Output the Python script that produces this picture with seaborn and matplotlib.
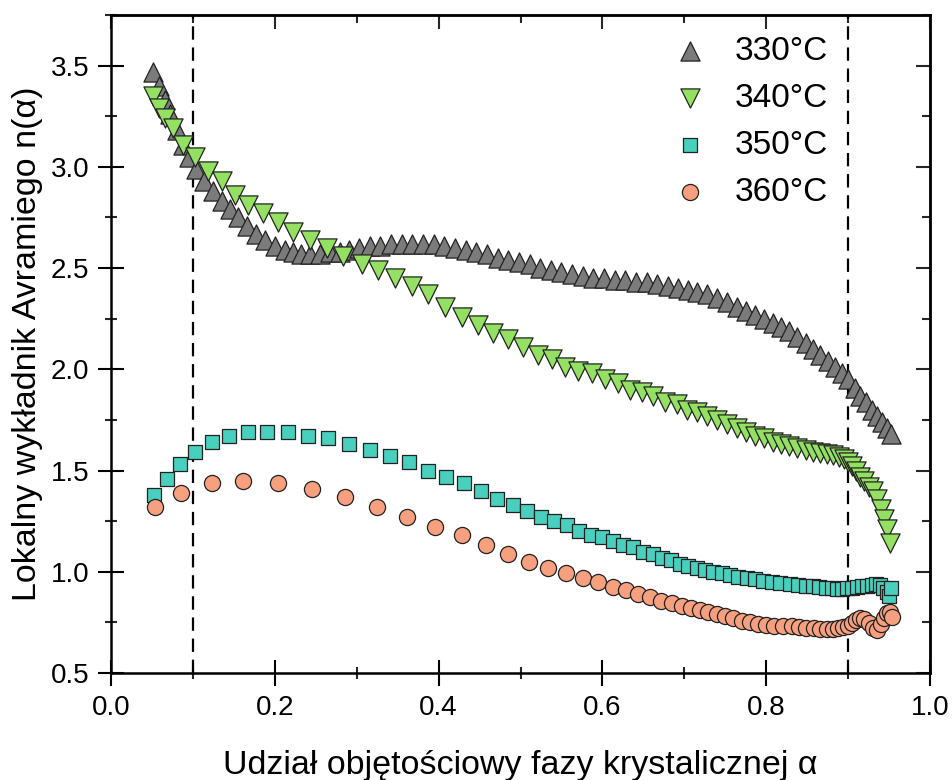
import matplotlib
matplotlib.use("Agg")
import matplotlib.pyplot as plt
import seaborn as sns
from matplotlib.ticker import MultipleLocator, FormatStrFormatter, NullFormatter

# ---------------- data ----------------
labels = ["330°C", "340°C", "350°C", "360°C"]

x330 = [0.051, 0.059, 0.066, 0.072, 0.081, 0.088, 0.095, 0.104, 0.114, 0.124,
        0.135, 0.145, 0.155, 0.166, 0.177, 0.188, 0.200, 0.212, 0.222, 0.232,
        0.243, 0.255, 0.267, 0.279, 0.291, 0.303, 0.316, 0.329, 0.342, 0.355,
        0.368, 0.381, 0.394, 0.407, 0.420, 0.433, 0.446, 0.459, 0.472, 0.485,
        0.498, 0.511, 0.524, 0.537, 0.550, 0.563, 0.576, 0.589, 0.602, 0.615,
        0.628, 0.641, 0.654, 0.667, 0.680, 0.692, 0.704, 0.716, 0.728, 0.740,
        0.752, 0.764, 0.775, 0.786, 0.797, 0.808, 0.818, 0.828, 0.838, 0.848,
        0.857, 0.866, 0.875, 0.884, 0.892, 0.900, 0.908, 0.915, 0.922, 0.929,
        0.935, 0.941, 0.947, 0.952]
y330 = [3.47, 3.40, 3.33, 3.26, 3.18, 3.11, 3.05, 2.99, 2.93, 2.88,
        2.83, 2.79, 2.75, 2.71, 2.67, 2.64, 2.61, 2.59, 2.58, 2.57,
        2.57, 2.57, 2.58, 2.58, 2.59, 2.60, 2.61, 2.61, 2.62, 2.62,
        2.62, 2.62, 2.62, 2.61, 2.60, 2.59, 2.58, 2.57, 2.55, 2.54,
        2.53, 2.52, 2.50, 2.49, 2.48, 2.47, 2.46, 2.45, 2.45, 2.44,
        2.44, 2.43, 2.43, 2.42, 2.41, 2.40, 2.39, 2.38, 2.37, 2.35,
        2.33, 2.31, 2.29, 2.27, 2.25, 2.23, 2.21, 2.19, 2.16, 2.13,
        2.10, 2.07, 2.04, 2.01, 1.98, 1.95, 1.91, 1.87, 1.84, 1.80,
        1.77, 1.74, 1.71, 1.68]

x340 = [0.051, 0.058, 0.066, 0.076, 0.088, 0.102, 0.118,
        0.136, 0.151, 0.167, 0.186, 0.204, 0.222, 0.243, 0.264, 0.283, 0.306,
        0.326, 0.347, 0.367, 0.387, 0.408, 0.429, 0.448, 0.466, 0.485, 0.503,
        0.521, 0.538, 0.554, 0.570, 0.587, 0.603, 0.619, 0.634, 0.648, 0.662,
        0.676, 0.691, 0.703, 0.716, 0.728, 0.740, 0.752, 0.764, 0.775, 0.786,
        0.797, 0.808, 0.818, 0.828, 0.838, 0.848, 0.857, 0.866, 0.874, 0.882,
        0.889, 0.895, 0.900, 0.905, 0.910, 0.915, 0.920, 0.925, 0.930, 0.935,
        0.940, 0.944, 0.948, 0.951]
y340 = [3.35, 3.29, 3.24, 3.19, 3.11, 3.05, 2.98,
        2.93, 2.86, 2.81, 2.77, 2.73, 2.68, 2.64, 2.60, 2.56, 2.52,
        2.49, 2.45, 2.41, 2.37, 2.31, 2.26, 2.22, 2.18, 2.15, 2.11,
        2.07, 2.05, 2.01, 1.99, 1.98, 1.95, 1.93, 1.90, 1.89, 1.87,
        1.84, 1.83, 1.80, 1.79, 1.77, 1.75, 1.73, 1.71, 1.69, 1.67,
        1.66, 1.64, 1.63, 1.62, 1.61, 1.60, 1.59, 1.585, 1.58, 1.575,
        1.565, 1.555, 1.54, 1.52, 1.50, 1.47, 1.45, 1.42, 1.40, 1.36,
        1.31, 1.26, 1.21, 1.14]

x350 = [0.052, 0.068, 0.084, 0.102, 0.123, 0.144, 0.167, 0.191, 0.216, 0.240,
        0.265, 0.290, 0.316, 0.341, 0.364, 0.387, 0.409, 0.431, 0.452, 0.471,
        0.491, 0.508, 0.525, 0.541, 0.557, 0.571, 0.586, 0.600, 0.613, 0.625,
        0.637, 0.650, 0.662, 0.673, 0.684, 0.695, 0.705, 0.715, 0.725, 0.735,
        0.746, 0.756, 0.766, 0.776, 0.786, 0.796, 0.807, 0.817, 0.829, 0.839,
        0.848, 0.857, 0.865, 0.873, 0.880, 0.887, 0.893, 0.899, 0.905, 0.911,
        0.917, 0.923, 0.929, 0.934, 0.939, 0.943, 0.947, 0.950, 0.952]
y350 = [1.38, 1.46, 1.53, 1.59, 1.64, 1.67, 1.69, 1.69, 1.69, 1.67,
        1.66, 1.63, 1.60, 1.57, 1.54, 1.50, 1.47, 1.44, 1.40, 1.36,
        1.33, 1.30, 1.27, 1.25, 1.23, 1.20, 1.18, 1.17, 1.15, 1.13,
        1.12, 1.10, 1.09, 1.07, 1.06, 1.04, 1.03, 1.02, 1.01, 1.00,
        0.995, 0.985, 0.975, 0.97, 0.965, 0.955, 0.95, 0.945, 0.94, 0.935,
        0.93, 0.93, 0.925, 0.92, 0.92, 0.915, 0.915, 0.92, 0.92, 0.925,
        0.93, 0.93, 0.935, 0.94, 0.935, 0.92, 0.90, 0.88, 0.92]

x360 = [0.054, 0.085, 0.123, 0.161, 0.204, 0.245, 0.286, 0.325, 0.362, 0.396,
        0.428, 0.458, 0.485, 0.510, 0.534, 0.556, 0.576, 0.595, 0.613, 0.629,
        0.643, 0.658, 0.671, 0.685, 0.697, 0.708, 0.719, 0.729, 0.740, 0.750,
        0.760, 0.770, 0.780, 0.790, 0.800, 0.810, 0.820, 0.831, 0.840, 0.849,
        0.858, 0.866, 0.874, 0.881, 0.888, 0.894, 0.900, 0.905, 0.910, 0.915,
        0.920, 0.925, 0.930, 0.935, 0.940, 0.944, 0.948, 0.951, 0.953]
y360 = [1.32, 1.39, 1.44, 1.45, 1.44, 1.41, 1.37, 1.32, 1.27, 1.22,
        1.18, 1.13, 1.09, 1.05, 1.02, 0.995, 0.97, 0.95, 0.925, 0.91,
        0.89, 0.875, 0.855, 0.845, 0.83, 0.82, 0.81, 0.80, 0.79, 0.78,
        0.77, 0.755, 0.75, 0.74, 0.735, 0.73, 0.73, 0.73, 0.725, 0.72,
        0.72, 0.715, 0.715, 0.715, 0.72, 0.725, 0.73, 0.745, 0.76, 0.77,
        0.765, 0.745, 0.72, 0.71, 0.74, 0.77, 0.795, 0.80, 0.775]

vlines = [0.1, 0.9]
xticks_major = [0.0, 0.2, 0.4, 0.6, 0.8, 1.0]
yticks_major = [0.5, 1.0, 1.5, 2.0, 2.5, 3.0, 3.5]

# ---------------- style ----------------
sns.set_style("ticks")
plt.rcParams['font.family'] = ['Liberation Sans', 'DejaVu Sans']
plt.rcParams['text.color'] = 'black'
plt.rcParams['axes.labelcolor'] = 'black'

fig = plt.figure(figsize=(9.53, 7.8), dpi=100)
ax = fig.add_axes([111 / 953, 107 / 780, 819 / 953, 658 / 780])

styles = [
    (labels[0], x330, y330, "^", 190, "#7b7b7b"),
    (labels[1], x340, y340, "v", 190, "#94e062"),
    (labels[2], x350, y350, "s", 100, "#48cfbd"),
    (labels[3], x360, y360, "o", 135, "#f7a07f"),
]
for lab, xs, ys, m, s, c in styles:
    sns.scatterplot(x=xs, y=ys, marker=m, s=s, color=c, edgecolor="#222222",
                    linewidth=0.9, label=lab, ax=ax, zorder=3)

for xv in vlines:
    ax.axvline(xv, color="black", lw=1.6, ls=(0, (6, 3.5)), zorder=2)

ax.set_xlim(0, 1)
ax.set_ylim(0.5, 3.75)
ax.set_xticks(xticks_major)
ax.set_yticks(yticks_major)
ax.xaxis.set_minor_locator(MultipleLocator(0.1))
ax.yaxis.set_minor_locator(MultipleLocator(0.25))
ax.xaxis.set_major_formatter(FormatStrFormatter('%.1f'))
ax.yaxis.set_major_formatter(FormatStrFormatter('%.1f'))
ax.tick_params(which='major', direction='inout', length=19, width=1.5,
               labelsize=20, pad=6, colors='black', labelcolor='black')
ax.tick_params(which='minor', direction='inout', length=9, width=1.5)
for sp in ax.spines.values():
    sp.set_linewidth(1.8)
    sp.set_color('black')

secx = ax.secondary_xaxis('top')
secx.set_xticks(xticks_major)
secx.xaxis.set_minor_locator(MultipleLocator(0.1))
secx.xaxis.set_major_formatter(NullFormatter())
secx.tick_params(which='major', direction='in', length=10, width=1.5)
secx.tick_params(which='minor', direction='in', length=6, width=1.5)
secx.spines['top'].set_linewidth(1.8)

secy = ax.secondary_yaxis('right')
secy.set_yticks(yticks_major)
secy.yaxis.set_minor_locator(MultipleLocator(0.25))
secy.yaxis.set_major_formatter(NullFormatter())
secy.tick_params(which='major', direction='in', length=10, width=1.5)
secy.tick_params(which='minor', direction='in', length=6, width=1.5)
secy.spines['right'].set_linewidth(1.8)

ax.set_xlabel("Udział objętościowy fazy krystalicznej α", fontsize=24.5,
              labelpad=21, color='black')
ax.set_ylabel("Lokalny wykładnik Avramiego n(α)", fontsize=24.5,
              labelpad=6, color='black')

ax.legend(loc='upper left', bbox_to_anchor=(0.686, 0.968), frameon=False,
          fontsize=24, handlelength=1.0, handletextpad=0.87, labelspacing=0.48,
          borderpad=0, borderaxespad=0)

fig.savefig("out.png", dpi=100)
